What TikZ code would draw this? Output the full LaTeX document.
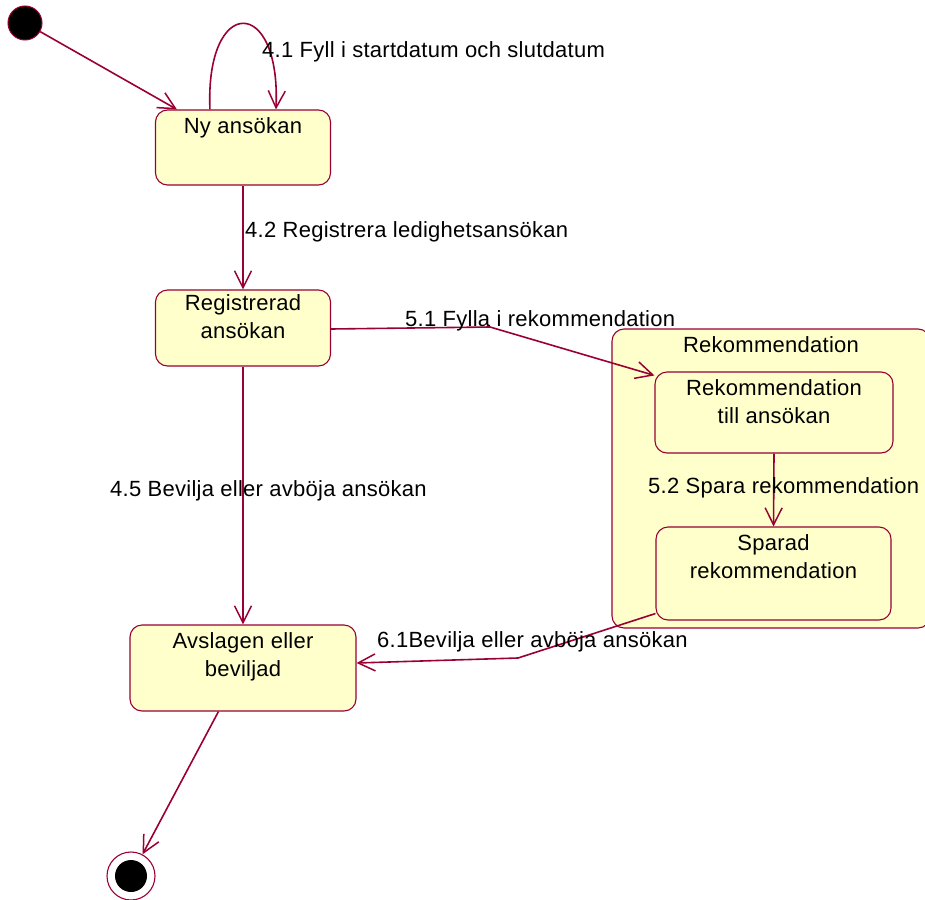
\documentclass[tikz,border=0pt]{standalone}
\usepackage{fontspec}
\setmainfont[LetterSpace=1.2]{Liberation Sans}
\usetikzlibrary{arrows.meta,calc}
\definecolor{lc}{RGB}{153,0,51}
\definecolor{fc}{RGB}{255,255,204}
\begin{document}
\begin{tikzpicture}[x=1pt,y=-1pt,
  every node/.style={font=\fontsize{22}{28}\selectfont},
  statebox/.style={draw=lc, fill=fc, line width=1.1pt, rounded corners=12pt,
    inner sep=0pt, minimum width=#1},
  stxt/.style={anchor=north, align=center, inner sep=0pt},
  lbl/.style={anchor=base west, inner sep=0pt},
  tr/.style={draw=lc, line width=1.6pt, -{Straight Barb[length=17pt,width=17pt,line width=1.5pt]}}]
\useasboundingbox (0,0) rectangle (925,899);

% initial and final pseudo states
\node[circle, fill=black, draw=lc, line width=1pt, minimum size=34pt, inner sep=0pt] (init) at (25,23) {};
\node[circle, fill=white, draw=lc, line width=1.1pt, minimum size=48pt, inner sep=0pt] (fin) at (131,876) {};
\node[circle, fill=black, minimum size=32pt, inner sep=0pt] (finc) at (131,876) {};

% composite state
\node[statebox=318pt, minimum height=299pt] (rek) at (771,478.5) {};
\node[stxt] (rekt) at ([yshift=-8pt]rek.north) {Rekommendation};

% simple states
\node[statebox=175pt, minimum height=75pt] (ny) at (243,147.5) {};
\node[stxt] (nyt) at ([yshift=-8pt]ny.north) {Ny ansökan};

\node[statebox=175pt, minimum height=76pt] (reg) at (243,328) {};
\node[stxt] (regt) at ([yshift=-5pt]reg.north) {Registrerad\\ansökan};

\node[statebox=238pt, minimum height=81pt] (rt) at (774,412.5) {};
\node[stxt] (rtt) at ([yshift=-8pt]rt.north) {Rekommendation\\till ansökan};

\node[statebox=235pt, minimum height=93pt] (sp) at (773.5,573.5) {};
\node[stxt] (spt) at ([yshift=-8pt]sp.north) {Sparad\\rekommendation};

\node[statebox=226pt, minimum height=86pt] (avs) at (243,668) {};
\node[stxt] (avst) at ([yshift=-8pt]avs.north) {Avslagen eller\\beviljad};

% bend points
\coordinate (b51) at (490,327);
\coordinate (b61) at (518,658);

% transitions
\draw[tr] (init) -- ([xshift=22pt]ny.north west);
\draw[tr] ([xshift=55pt]ny.north west) .. controls (205,-5) and (281,-5) .. ([xshift=121pt]ny.north west);
\draw[tr] (ny.south) -- (reg.north);
\draw[tr] ([yshift=-1pt]reg.east) -- (b51) -- ([yshift=-4pt]rt.north west);
\draw[tr] (rt.south) -- (sp.north);
\draw[tr] (reg.south) -- (avs.north);
\draw[tr] ([yshift=7pt]sp.south west) -- (b61) -- ([yshift=5pt]avs.east);
\draw[tr] ([xshift=89pt]avs.south west) -- (fin);

% transition labels
\node[lbl] (l41) at (262,58) {4.1 Fyll i startdatum och slutdatum};
\node[lbl] (l42) at (245,237) {4.2 Registrera ledighetsansökan};
\node[lbl] (l51) at (405,326) {5.1 Fylla i rekommendation};
\node[lbl] (l52) at (648,493) {5.2 Spara rekommendation};
\node[lbl] (l45) at (110,496) {4.5 Bevilja eller avböja ansökan};
\node[lbl] (l61) at (377,647) {6.1Bevilja eller avböja ansökan};
\end{tikzpicture}
\end{document}
